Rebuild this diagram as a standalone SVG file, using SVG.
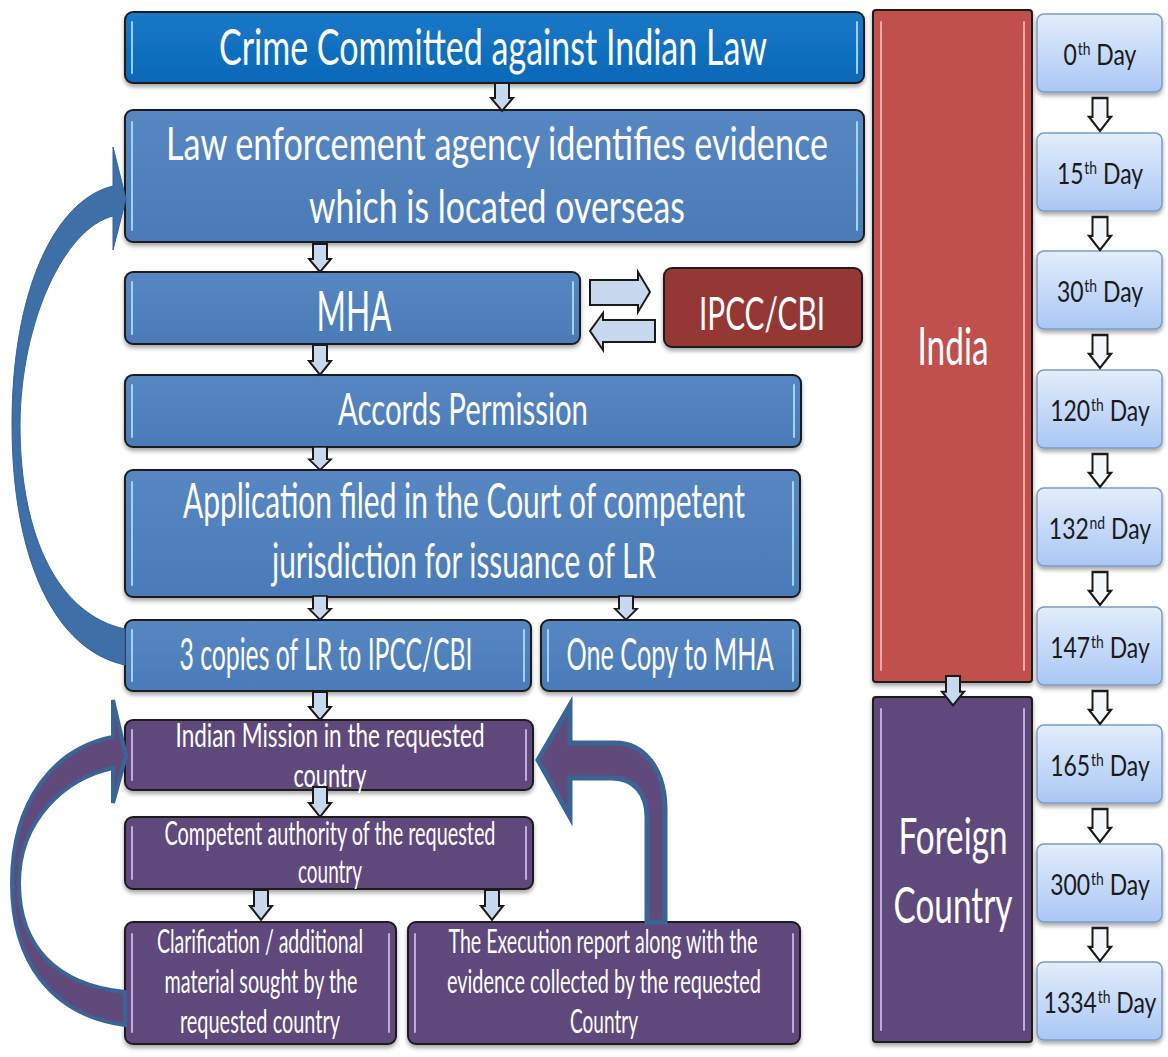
<svg xmlns="http://www.w3.org/2000/svg" width="1168" height="1057" viewBox="0 0 1168 1057">
<defs>
<filter id="sh" x="-5%" y="-10%" width="110%" height="130%">
<feDropShadow dx="0" dy="3" stdDeviation="2" flood-color="#000" flood-opacity="0.35"/>
</filter>
<linearGradient id="gDay" x1="0" y1="0" x2="0" y2="1">
<stop offset="0" stop-color="#e3edfc"/>
<stop offset="1" stop-color="#a9c7f4"/>
</linearGradient>
<linearGradient id="gBlue" x1="0" y1="0" x2="0" y2="1">
<stop offset="0" stop-color="#5787c2"/>
<stop offset="1" stop-color="#4a7bb8"/>
</linearGradient>
<linearGradient id="gDark" x1="0" y1="0" x2="0" y2="1">
<stop offset="0" stop-color="#1778c8"/>
<stop offset="1" stop-color="#0b68b8"/>
</linearGradient>
<path id="dn" d="M-7,0 H7 V15 H11 L0,28 L-11,15 H-7 Z"/>
<path id="dnd" d="M-7.5,0 H7.5 V16 H11 L0,28 L-11,16 H-7.5 Z"/>
</defs>
<style>
.bx{stroke:#1c1c1c;stroke-width:2;filter:url(#sh)}
.dk{fill:url(#gDark)}
.bl{fill:url(#gBlue)}
.rd{fill:#953735}
.pu{fill:#5f4a7b}
.in{fill:#c0504d}
.day{fill:url(#gDay);stroke:#7d9ac4;stroke-width:1.5;filter:url(#sh)}
.hb{stroke:#a7dcff;stroke-width:2;fill:none;stroke-linecap:round;opacity:0.9}
.hp{stroke:#c9b8e6;stroke-width:2;fill:none;stroke-linecap:round;opacity:0.9}
.hr{stroke:#f3b2b0;stroke-width:2;fill:none;stroke-linecap:round;opacity:0.9}
.w{fill:#fff;font-family:Lato,"Liberation Sans",sans-serif;text-anchor:middle}
.d{fill:#1a1a1a;font-family:Lato,"Liberation Sans",sans-serif;text-anchor:middle;font-size:28px}
.sa{fill:#c8d9ef;stroke:#1a1a1a;stroke-width:2}
.sd{fill:#f4f7fb;stroke:#1a1a1a;stroke-width:2}
.hz{fill:#c8d9ef;stroke:#1a1a1a;stroke-width:2}
</style>

<g id="n-crime">
<rect class="bx dk" x="125" y="12" width="739" height="71" rx="8"/>
<path class="hb" d="M132,22 V73 M857,22 V73"/>
<text class="w" x="493" y="65" font-size="50" textLength="548" lengthAdjust="spacingAndGlyphs">Crime Committed against Indian Law</text>
</g>

<g id="n-law">
<rect class="bx bl" x="125" y="110" width="739" height="132" rx="8"/>
<path class="hb" d="M132,122 V230 M857,122 V230"/>
<text class="w" x="497" y="160" font-size="46" textLength="662" lengthAdjust="spacingAndGlyphs">Law enforcement agency identifies evidence</text>
<text class="w" x="497" y="223" font-size="46" textLength="376" lengthAdjust="spacingAndGlyphs">which is located overseas</text>
</g>

<g id="n-mha">
<rect class="bx bl" x="125" y="272" width="455" height="72" rx="8"/>
<path class="hb" d="M132,282 V334 M573,282 V334"/>
<text class="w" x="354" y="331" font-size="56" textLength="75" lengthAdjust="spacingAndGlyphs">MHA</text>
</g>

<g id="n-ipcc">
<rect class="bx rd" x="664" y="268" width="198" height="79" rx="8"/>
<text class="w" x="762" y="330" font-size="46" textLength="126" lengthAdjust="spacingAndGlyphs">IPCC/CBI</text>
</g>

<g id="n-accords">
<rect class="bx bl" x="125" y="375" width="676" height="72" rx="8"/>
<path class="hb" d="M132,385 V437 M794,385 V437"/>
<text class="w" x="463" y="425" font-size="45" textLength="250" lengthAdjust="spacingAndGlyphs">Accords Permission</text>
</g>

<g id="n-application">
<rect class="bx bl" x="125" y="470" width="675" height="127" rx="8"/>
<path class="hb" d="M132,482 V585 M793,482 V585"/>
<text class="w" x="464" y="518" font-size="48" textLength="562" lengthAdjust="spacingAndGlyphs">Application filed in the Court of competent</text>
<text class="w" x="464" y="578" font-size="48" textLength="384" lengthAdjust="spacingAndGlyphs">jurisdiction for issuance of LR</text>
</g>

<g id="n-copies">
<rect class="bx bl" x="125" y="620" width="406" height="71" rx="8"/>
<path class="hb" d="M132,630 V681 M524,630 V681"/>
<text class="w" x="326" y="670" font-size="44" textLength="293" lengthAdjust="spacingAndGlyphs">3 copies of LR to IPCC/CBI</text>
</g>

<g id="n-onecopy">
<rect class="bx bl" x="541" y="620" width="259" height="71" rx="8"/>
<path class="hb" d="M548,630 V681 M793,630 V681"/>
<text class="w" x="670" y="670" font-size="44" textLength="207" lengthAdjust="spacingAndGlyphs">One Copy to MHA</text>
</g>

<g id="n-mission">
<rect class="bx pu" x="125" y="720" width="408" height="70" rx="8"/>
<path class="hp" d="M132,730 V780 M526,730 V780"/>
<text class="w" x="330" y="747" font-size="33" textLength="309" lengthAdjust="spacingAndGlyphs">Indian Mission in the requested</text>
<text class="w" x="330" y="787" font-size="33" textLength="73" lengthAdjust="spacingAndGlyphs">country</text>
</g>

<g id="n-competent">
<rect class="bx pu" x="125" y="817" width="408" height="72" rx="8"/>
<path class="hp" d="M132,827 V879 M526,827 V879"/>
<text class="w" x="330" y="845" font-size="32" textLength="331" lengthAdjust="spacingAndGlyphs">Competent authority of the requested</text>
<text class="w" x="330" y="883" font-size="32" textLength="64" lengthAdjust="spacingAndGlyphs">country</text>
</g>

<g id="n-clarification">
<rect class="bx pu" x="125" y="922" width="271" height="122" rx="8"/>
<path class="hp" d="M132,934 V1032 M389,934 V1032"/>
<text class="w" x="260" y="953" font-size="32" textLength="206" lengthAdjust="spacingAndGlyphs">Clarification / additional</text>
<text class="w" x="261" y="993" font-size="32" textLength="193" lengthAdjust="spacingAndGlyphs">material sought by the</text>
<text class="w" x="260" y="1033" font-size="32" textLength="160" lengthAdjust="spacingAndGlyphs">requested country</text>
</g>

<g id="n-execution">
<rect class="bx pu" x="408" y="922" width="392" height="122" rx="8"/>
<path class="hp" d="M415,934 V1032 M793,934 V1032"/>
<text class="w" x="603" y="953" font-size="32" textLength="309" lengthAdjust="spacingAndGlyphs">The Execution report along with the</text>
<text class="w" x="604" y="993" font-size="32" textLength="314" lengthAdjust="spacingAndGlyphs">evidence collected by the requested</text>
<text class="w" x="604" y="1033" font-size="32" textLength="68" lengthAdjust="spacingAndGlyphs">Country</text>
</g>

<g id="n-india">
<rect class="bx in" x="873" y="10" width="159" height="672" rx="3"/>
<path class="hr" d="M881,22 V670 M1024,22 V670"/>
<text class="w" x="953" y="365" font-size="52" textLength="71" lengthAdjust="spacingAndGlyphs">India</text>
</g>

<g id="n-foreign">
<rect class="bx pu" x="873" y="697" width="159" height="345" rx="3"/>
<path class="hp" d="M881,709 V1030 M1024,709 V1030"/>
<text class="w" x="953" y="854" font-size="50" textLength="109" lengthAdjust="spacingAndGlyphs">Foreign</text>
<text class="w" x="953" y="923" font-size="50" textLength="119" lengthAdjust="spacingAndGlyphs">Country</text>
</g>

<g id="n-day0"><rect class="day" x="1037" y="14" width="125" height="78" rx="7"/>
<text class="d" transform="translate(1100,65) scale(0.82,1)" x="0" y="0">0<tspan dx="1" dy="-10" font-size="17">th</tspan><tspan dy="10"> Day</tspan></text></g>
<g id="n-day15"><rect class="day" x="1037" y="133" width="125" height="78" rx="7"/>
<text class="d" transform="translate(1100,184) scale(0.82,1)" x="0" y="0">15<tspan dx="1" dy="-10" font-size="17">th</tspan><tspan dy="10"> Day</tspan></text></g>
<g id="n-day30"><rect class="day" x="1037" y="251" width="125" height="78" rx="7"/>
<text class="d" transform="translate(1100,302) scale(0.82,1)" x="0" y="0">30<tspan dx="1" dy="-10" font-size="17">th</tspan><tspan dy="10"> Day</tspan></text></g>
<g id="n-day120"><rect class="day" x="1037" y="370" width="125" height="78" rx="7"/>
<text class="d" transform="translate(1100,421) scale(0.82,1)" x="0" y="0">120<tspan dx="1" dy="-10" font-size="17">th</tspan><tspan dy="10"> Day</tspan></text></g>
<g id="n-day132"><rect class="day" x="1037" y="488" width="125" height="78" rx="7"/>
<text class="d" transform="translate(1100,539) scale(0.82,1)" x="0" y="0">132<tspan dx="1" dy="-10" font-size="17">nd</tspan><tspan dy="10"> Day</tspan></text></g>
<g id="n-day147"><rect class="day" x="1037" y="607" width="125" height="78" rx="7"/>
<text class="d" transform="translate(1100,658) scale(0.82,1)" x="0" y="0">147<tspan dx="1" dy="-10" font-size="17">th</tspan><tspan dy="10"> Day</tspan></text></g>
<g id="n-day165"><rect class="day" x="1037" y="725" width="125" height="78" rx="7"/>
<text class="d" transform="translate(1100,776) scale(0.82,1)" x="0" y="0">165<tspan dx="1" dy="-10" font-size="17">th</tspan><tspan dy="10"> Day</tspan></text></g>
<g id="n-day300"><rect class="day" x="1037" y="844" width="125" height="78" rx="7"/>
<text class="d" transform="translate(1100,895) scale(0.82,1)" x="0" y="0">300<tspan dx="1" dy="-10" font-size="17">th</tspan><tspan dy="10"> Day</tspan></text></g>
<g id="n-day1334"><rect class="day" x="1037" y="962" width="125" height="78" rx="7"/>
<text class="d" transform="translate(1100,1013) scale(0.82,1)" x="0" y="0">1334<tspan dx="1" dy="-10" font-size="17">th</tspan><tspan dy="10"> Day</tspan></text></g>

<g id="connectors">
<use href="#dn" class="sa" transform="translate(502,83)"/>
<use href="#dn" class="sa" transform="translate(320,244)"/>
<use href="#dn" class="sa" transform="translate(320,345) scale(1,1.07)"/>
<use href="#dn" class="sa" transform="translate(320,447) scale(1,0.82)"/>
<use href="#dn" class="sa" transform="translate(320,596) scale(1,0.85)"/>
<use href="#dn" class="sa" transform="translate(626,596) scale(1,0.85)"/>
<use href="#dn" class="sa" transform="translate(320,692)"/>
<use href="#dn" class="sa" transform="translate(320,787) scale(1,1.07)"/>
<use href="#dn" class="sa" transform="translate(261,890) scale(1,1.07)"/>
<use href="#dn" class="sa" transform="translate(492,890) scale(1,1.07)"/>
<use href="#dn" class="sa" transform="translate(953,676) scale(1,1.05)"/>
<use href="#dnd" class="sd" transform="translate(1100,98) scale(1,1.18)"/>
<use href="#dnd" class="sd" transform="translate(1100,217) scale(1,1.18)"/>
<use href="#dnd" class="sd" transform="translate(1100,335) scale(1,1.18)"/>
<use href="#dnd" class="sd" transform="translate(1100,454) scale(1,1.18)"/>
<use href="#dnd" class="sd" transform="translate(1100,572) scale(1,1.18)"/>
<use href="#dnd" class="sd" transform="translate(1100,691) scale(1,1.18)"/>
<use href="#dnd" class="sd" transform="translate(1100,809) scale(1,1.18)"/>
<use href="#dnd" class="sd" transform="translate(1100,928) scale(1,1.18)"/>
<path class="hz" d="M590,280 H638 V272 L650,292 L638,312 V305 H590 Z"/>
<path class="hz" d="M655,320 H603 V313 L590,331 L603,350 V342 H655 Z"/>
<path d="M125,665 C55,650 12,560 12,424 C12,290 55,200 113,186 L113,147 L126,199 L113,250 L113,216 C65,228 21,320 20,424 C20,540 60,615 125,629 Z" fill="#3f6fa7" stroke="#35629a" stroke-width="1"/>
<path d="M125,1025 C50,1015 12,960 12,883 C12,800 55,748 113,737 L113,700 L126,756 L113,803 L113,768 C65,778 19,820 19,883 C19,945 55,985 125,992 Z" fill="#5f4a7b" stroke="#3b6496" stroke-width="4" stroke-linejoin="miter"/>
<path d="M665,922 V810 C665,770 645,743 615,743 H570 V705 L538,760 L570,817 V778 H612 C635,778 647,795 647,817 V922 Z" fill="#5f4a7b" stroke="#3b6496" stroke-width="5"/>
</g>
</svg>
